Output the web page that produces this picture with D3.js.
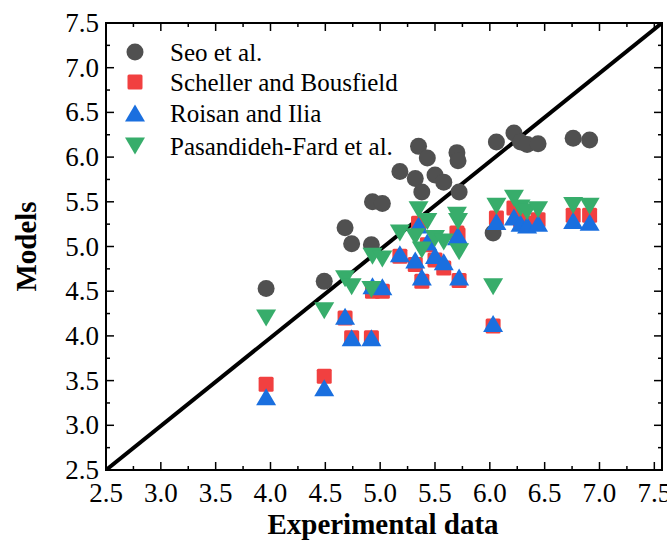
<!DOCTYPE html>
<html>
<head>
<meta charset="utf-8">
<script src="https://cdn.jsdelivr.net/npm/d3@7"></script>
<style>
  body { margin: 0; background: #fff; }
</style>
</head>
<body>
<div id="chart"></div>
<script>
const width = 667;
const height = 542;

// experimental values (x) shared by all models
const expData = [3.96, 4.49, 4.68, 4.74, 4.92, 4.93, 5.02, 5.18, 5.32, 5.35, 5.38, 5.43, 5.50,
                 5.58, 5.70, 5.71, 5.72, 6.03, 6.06, 6.22, 6.28, 6.34, 6.44, 6.76, 6.91];
// model predictions (y)
const seo        = [4.53, 4.61, 5.21, 5.03, 5.02, 5.50, 5.48, 5.84, 5.76, 6.12, 5.61, 5.99, 5.80,
                    5.72, 6.05, 5.96, 5.61, 5.15, 6.17, 6.27, 6.17, 6.14, 6.15, 6.21, 6.19];
const scheller   = [3.46, 3.55, 4.20, 3.98, 3.98, 4.50, 4.50, 4.89, 4.80, 5.26, 4.61, 5.02, 4.85,
                    4.76, 5.15, 5.13, 4.62, 4.11, 5.32, 5.43, 5.30, 5.26, 5.30, 5.35, 5.35];
const roisan     = [3.32, 3.42, 4.22, 3.98, 3.98, 4.56, 4.55, 4.92, 4.85, 5.24, 4.66, 5.05, 4.90,
                    4.83, 5.11, 5.12, 4.66, 4.14, 5.28, 5.33, 5.26, 5.24, 5.26, 5.29, 5.27];
const pasandideh = [4.20, 4.28, 4.64, 4.55, 4.52, 4.89, 4.86, 5.15, 5.11, 5.41, 4.96, 5.28, 5.09,
                    5.05, 5.35, 5.28, 4.94, 4.55, 5.45, 5.54, 5.43, 5.39, 5.41, 5.46, 5.45];

const seriesNames = ["Seo et al.", "Scheller and Bousfield", "Roisan and Ilia", "Pasandideh-Fard et al."];
const seriesColors = ["#505050", "#f14040", "#1a6fdf", "#37ad6b"];
const xTicks = [2.5, 3.0, 3.5, 4.0, 4.5, 5.0, 5.5, 6.0, 6.5, 7.0, 7.5];
const yTicks = [2.5, 3.0, 3.5, 4.0, 4.5, 5.0, 5.5, 6.0, 6.5, 7.0, 7.5];

const pLeft = 106, pRight = 662, pTop = 23, pBottom = 470;
const serif = "Liberation Serif";

const svg = d3.select("#chart").append("svg")
    .attr("width", width)
    .attr("height", height);

const x = d3.scaleLinear().domain([2.5, 7.57]).range([pLeft, pRight]);
const y = d3.scaleLinear().domain([2.5, 7.5]).range([pBottom, pTop]);

const minorX = d3.range(2.75, 7.57, 0.5);
const minorY = d3.range(2.75, 7.5, 0.5);

svg.append("defs").append("clipPath").attr("id", "clip")
  .append("rect").attr("x", pLeft).attr("y", pTop)
  .attr("width", pRight - pLeft).attr("height", pBottom - pTop);

// inward ticks on all sides
const ticks = svg.append("g").attr("stroke", "#000").attr("stroke-width", 1.5);
xTicks.forEach(v => {
  ticks.append("line").attr("x1", x(v)).attr("x2", x(v)).attr("y1", pBottom).attr("y2", pBottom - 8);
  ticks.append("line").attr("x1", x(v)).attr("x2", x(v)).attr("y1", pTop).attr("y2", pTop + 8);
});
minorX.forEach(v => {
  ticks.append("line").attr("x1", x(v)).attr("x2", x(v)).attr("y1", pBottom).attr("y2", pBottom - 4);
  ticks.append("line").attr("x1", x(v)).attr("x2", x(v)).attr("y1", pTop).attr("y2", pTop + 4);
});
yTicks.forEach(v => {
  ticks.append("line").attr("x1", pLeft).attr("x2", pLeft + 8).attr("y1", y(v)).attr("y2", y(v));
  ticks.append("line").attr("x1", pRight).attr("x2", pRight - 8).attr("y1", y(v)).attr("y2", y(v));
});
minorY.forEach(v => {
  ticks.append("line").attr("x1", pLeft).attr("x2", pLeft + 4).attr("y1", y(v)).attr("y2", y(v));
  ticks.append("line").attr("x1", pRight).attr("x2", pRight - 4).attr("y1", y(v)).attr("y2", y(v));
});

// tick labels
svg.append("g").selectAll("text").data(xTicks).join("text")
  .attr("x", d => x(d)).attr("y", pBottom + 32)
  .attr("text-anchor", "middle").attr("font-size", 27)
  .style("font-family", serif)
  .text(d => d.toFixed(1));
svg.append("g").selectAll("text").data(yTicks).join("text")
  .attr("x", pLeft - 7).attr("y", d => y(d) + 9)
  .attr("text-anchor", "end").attr("font-size", 27)
  .style("font-family", serif)
  .text(d => d.toFixed(1));

// axis titles
svg.append("text").attr("x", (pLeft + pRight) / 2 - 1).attr("y", 534)
  .attr("text-anchor", "middle").attr("font-size", 29).attr("font-weight", "bold")
  .style("font-family", serif)
  .text("Experimental data");
svg.append("text").attr("transform", `translate(36,${(pTop + pBottom) / 2}) rotate(-90)`)
  .attr("text-anchor", "middle").attr("font-size", 29).attr("font-weight", "bold")
  .style("font-family", serif)
  .text("Models");

const plot = svg.append("g").attr("clip-path", "url(#clip)");

// 1:1 line
plot.append("line")
  .attr("x1", x(2.5)).attr("y1", y(2.5))
  .attr("x2", x(7.57)).attr("y2", y(7.5))
  .attr("stroke", "#000").attr("stroke-width", 4);

function markerPath(i) {
  const w = 10, h = 8.5;
  if (i === 2) return `M0,${-h}L${w},${h}L${-w},${h}Z`;
  if (i === 3) return `M0,${h}L${w},${-h}L${-w},${-h}Z`;
  return null;
}

const allY = [seo, scheller, roisan, pasandideh];
allY.forEach((vals, i) => {
  const g = plot.append("g").attr("fill", seriesColors[i]);
  const pts = expData.map((e, k) => [e, vals[k]]);
  if (i === 0) {
    g.selectAll("circle").data(pts).join("circle")
      .attr("cx", d => x(d[0])).attr("cy", d => y(d[1])).attr("r", 8.5);
  } else if (i === 1) {
    g.selectAll("rect").data(pts).join("rect")
      .attr("x", d => x(d[0]) - 7.5).attr("y", d => y(d[1]) - 7.5)
      .attr("width", 15).attr("height", 15).attr("rx", 1.5);
  } else {
    g.selectAll("path").data(pts).join("path")
      .attr("transform", d => `translate(${x(d[0])},${y(d[1])})`)
      .attr("d", markerPath(i));
  }
});

// frame
svg.append("rect").attr("x", pLeft).attr("y", pTop)
  .attr("width", pRight - pLeft).attr("height", pBottom - pTop)
  .attr("fill", "none").attr("stroke", "#000").attr("stroke-width", 2);

// legend
const legendY = [52, 82, 113, 146];
const legend = svg.append("g");
seriesNames.forEach((name, i) => {
  const cy = legendY[i], cx = 135;
  if (i === 0) legend.append("circle").attr("cx", cx).attr("cy", cy).attr("r", 8.5).attr("fill", seriesColors[i]);
  else if (i === 1) legend.append("rect").attr("x", cx - 7.5).attr("y", cy - 7.5).attr("width", 15).attr("height", 15).attr("rx", 1.5).attr("fill", seriesColors[i]);
  else legend.append("path").attr("transform", `translate(${cx},${cy})`).attr("d", markerPath(i)).attr("fill", seriesColors[i]);
  legend.append("text").attr("x", 170).attr("y", cy + 8.5).attr("font-size", 25)
    .style("font-family", serif).text(name);
});
</script>
</body>
</html>
